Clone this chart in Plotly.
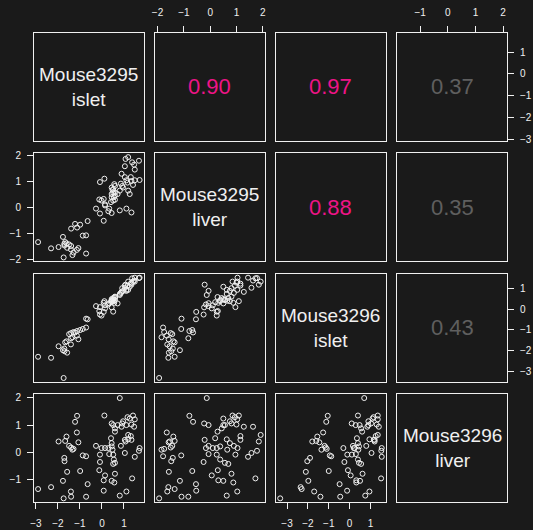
import plotly.graph_objects as go

# ---------------- data ----------------
var_labels = ["Mouse3295<br>islet", "Mouse3295<br>liver", "Mouse3296<br>islet", "Mouse3296<br>liver"]

mouse3295_islet = [-2.90, -2.31, -1.97, -1.77, -1.74, -1.71, -1.70, -1.67, -1.61, -1.58,
                   -1.49, -1.41, -1.40, -1.40, -1.34, -1.29, -1.22, -1.14, -1.13, -1.07,
                   -0.99, -0.87, -0.72, -0.72, -0.65, -0.27, -0.12, -0.09, -0.09, -0.02,
                   0.08, 0.08, 0.11, 0.14, 0.14, 0.29, 0.33, 0.41, 0.44, 0.44,
                   0.44, 0.44, 0.48, 0.51, 0.51, 0.51, 0.54, 0.56, 0.59, 0.59,
                   0.59, 0.59, 0.71, 0.81, 0.81, 0.86, 0.89, 0.92, 0.96, 1.04,
                   1.04, 1.07, 1.11, 1.11, 1.16, 1.19, 1.19, 1.26, 1.31, 1.34,
                   1.34, 1.37, 1.41, 1.46, 1.49, 1.49, 1.68, 1.71]

mouse3295_liver = [-1.35, -1.59, -1.54, -1.15, -1.94, -1.42, -1.48, -1.35, -1.40, -1.57,
                   -1.44, -1.63, -1.50, -0.83, -1.85, -1.75, -0.65, -1.65, -0.79, -1.58,
                   -0.68, -1.10, -1.79, -1.09, -0.54, -0.06, 0.29, 0.96, -0.25, 0.25,
                   0.31, -0.53, 1.09, 0.10, 0.06, -0.16, -0.06, 0.19, 0.75, 0.38,
                   -0.23, 0.50, 0.65, 0.56, 0.25, 0.69, 0.38, 0.88, 0.44, 0.28,
                   0.56, 0.81, 0.50, -0.13, 0.63, 0.90, 1.28, 0.81, 0.75, 1.15,
                   1.57, 1.85, 1.03, -0.06, 0.94, 1.92, 0.63, 0.50, 1.15, -0.21,
                   1.00, 1.72, 0.85, 1.63, 1.44, 1.03, 1.78, 1.04]

mouse3296_islet = [-2.30, -2.35, -1.79, -1.98, -3.33, -1.90, -2.03, -1.60, -1.55, -2.10,
                   -1.20, -1.70, -1.15, -1.40, -1.35, -1.10, -1.12, -1.27, -1.05, -1.45,
                   -1.00, -0.95, -0.88, -0.45, -0.48, 0.16, -0.08, 0.11, -0.25, -0.30,
                   0.32, -0.12, 0.40, 0.20, 0.05, 0.24, 0.30, 0.35, 0.40, 0.45,
                   0.10, 0.50, 0.42, 0.48, -0.11, 0.55, 0.40, 0.32, 0.55, 0.60,
                   0.45, 0.62, 0.29, 0.70, 0.75, 0.80, 0.85, 1.03, 0.90, 1.16,
                   1.05, 1.20, 0.95, 0.90, 1.15, 1.35, 0.95, 1.10, 1.25, 1.20,
                   1.30, 1.51, 1.35, 1.40, 1.54, 1.35, 1.52, 1.54]

mouse3296_liver = [-1.34, -1.27, 0.40, -1.04, -1.68, -0.20, -0.32, 0.42, 0.58, -0.71,
                   0.24, -1.43, 0.18, -1.62, 0.10, 0.13, 1.12, 0.73, 1.34, 0.37,
                   -0.68, -0.11, -0.14, -1.62, -1.16, 0.24, -0.65, -0.08, -0.35, 0.16,
                   -1.02, -1.40, 1.35, 0.16, -0.84, 0.16, -0.06, 0.52, 0.34, 0.22,
                   1.06, -1.04, 0.10, 1.00, -0.08, -0.42, -0.26, -1.10, 0.88, 0.76,
                   -0.38, -0.78, 1.00, 1.99, -1.58, 0.24, 0.94, 1.06, 1.14, 0.46,
                   -0.02, 0.40, -1.43, 1.00, 1.29, 0.64, 0.48, 1.24, 0.60, 0.46,
                   1.02, -0.95, 1.35, 0.94, -0.16, 1.21, 0.06, 0.16]

variables = [mouse3295_islet, mouse3295_liver, mouse3296_islet, mouse3296_liver]

# correlations printed in the upper panels
corr_pairs = [(0, 1), (0, 2), (0, 3), (1, 2), (1, 3), (2, 3)]
corr_values = [0.90, 0.97, 0.37, 0.88, 0.35, 0.43]

tick_values = [[-3, -2, -1, 0, 1], [-2, -1, 0, 1, 2], [-3, -2, -1, 0, 1], [-1, 0, 1, 2]]

# ---------------- styling / layout ----------------
W, H = 533, 530
BG = "#1a1a1a"
FG = "#f0f0f0"
PINK = "#ee1487"
GREY = "#5f5f5f"
FONT = "Liberation Sans, Arial, sans-serif"

col_left = [30.3, 152.5, 274.7, 397.0]
row_top = [29.0, 151.4, 273.8, 396.0]
cw, rh = 110.7, 110.0


def extend(v):
    lo, hi = min(v), max(v)
    d = (hi - lo) * 0.04
    return [lo - d, hi + d]


ranges = [extend(v) for v in variables]

fig = go.Figure()
layout = dict(
    width=W, height=H,
    margin=dict(l=0, r=0, t=0, b=0),
    paper_bgcolor=BG, plot_bgcolor=BG,
    showlegend=False,
    font=dict(family=FONT, color=FG),
)
annotations = []

for r in range(4):
    for c in range(4):
        idx = r * 4 + c + 1
        sfx = "" if idx == 1 else str(idx)
        xd = [col_left[c] / W, (col_left[c] + cw) / W]
        yd = [1 - (row_top[r] + rh) / H, 1 - row_top[r] / H]

        xshow = (r == 3 and c % 2 == 0) or (r == 0 and c % 2 == 1)
        yshow = (c == 0 and r % 2 == 1) or (c == 3 and r % 2 == 0)

        xa = dict(domain=xd, range=ranges[c], anchor="y" + sfx,
                  showgrid=False, zeroline=False, showline=True, mirror=True,
                  linecolor=FG, linewidth=1,
                  tickvals=tick_values[c] if xshow else [],
                  showticklabels=xshow, ticks="outside" if xshow else "",
                  ticklen=6, tickwidth=1, tickcolor=FG,
                  side="top" if (r == 0 and xshow) else "bottom",
                  tickfont=dict(size=10, color=FG, family=FONT),
                  ticklabelstandoff=6)
        ya = dict(domain=yd, range=ranges[r], anchor="x" + sfx,
                  showgrid=False, zeroline=False, showline=True, mirror=True,
                  linecolor=FG, linewidth=1,
                  tickvals=tick_values[r] if yshow else [],
                  showticklabels=yshow, ticks="outside" if yshow else "",
                  ticklen=6, tickwidth=1, tickcolor=FG,
                  side="right" if (c == 3 and yshow) else "left",
                  tickfont=dict(size=10, color=FG, family=FONT),
                  ticklabelstandoff=4)
        layout["xaxis" + sfx] = xa
        layout["yaxis" + sfx] = ya

        if r > c:
            fig.add_trace(go.Scatter(
                x=variables[c], y=variables[r], mode="markers",
                xaxis="x" + sfx, yaxis="y" + sfx,
                marker=dict(symbol="circle-open", size=5, color=FG,
                            line=dict(width=1, color=FG)),
                hoverinfo="skip"))
        else:
            # empty trace so the panel box is drawn
            fig.add_trace(go.Scatter(x=[], y=[], mode="markers",
                                     xaxis="x" + sfx, yaxis="y" + sfx,
                                     hoverinfo="skip"))
            if r == c:
                annotations.append(dict(
                    text=var_labels[r], xref=f"x{sfx} domain", yref=f"y{sfx} domain",
                    x=0.5, y=0.5, showarrow=False,
                    font=dict(size=19, color=FG, family=FONT)))

for (a, b), val in zip(corr_pairs, corr_values):
    idx = a * 4 + b + 1
    sfx = "" if idx == 1 else str(idx)
    annotations.append(dict(
        text=f"{val:.2f}", xref=f"x{sfx} domain", yref=f"y{sfx} domain",
        x=0.5, y=0.5, showarrow=False,
        font=dict(size=22, color=PINK if val >= 0.5 else GREY, family=FONT)))

layout["annotations"] = annotations
fig.update_layout(**layout)
fig.write_html("out.html", config={"displayModeBar": False})

# remove the default page margin so the figure sits at the window's corner
with open("out.html", encoding="utf-8") as f:
    html = f.read()
html = html.replace("<head>", "<head><style>html,body{margin:0;padding:0;background:#1a1a1a;}</style>", 1)
with open("out.html", "w", encoding="utf-8") as f:
    f.write(html)
